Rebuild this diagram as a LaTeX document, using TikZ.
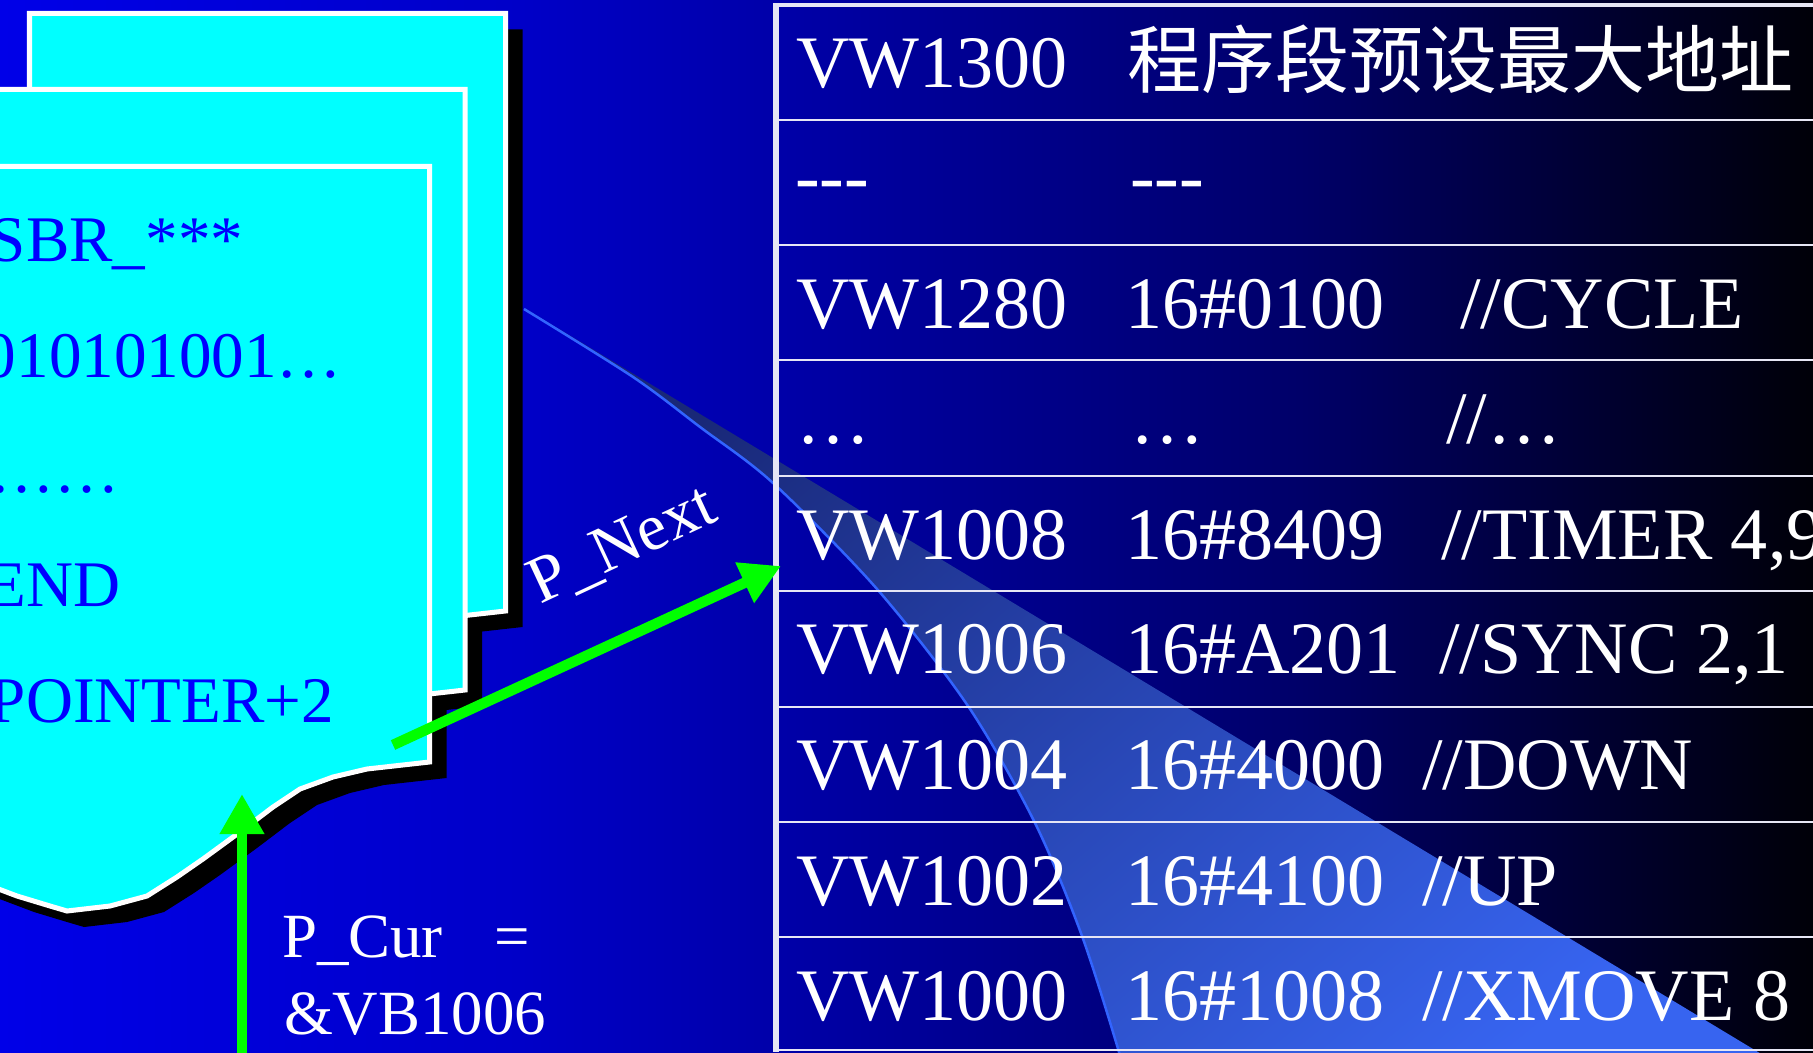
\documentclass[tikz,border=0pt]{standalone}
\usepackage{fontspec}
\setmainfont{Liberation Serif}
\newfontfamily\cjk{Noto Sans CJK SC}
\usetikzlibrary{arrows.meta}
\definecolor{bgA}{RGB}{0,0,232}
\definecolor{bgB}{RGB}{0,0,200}
\definecolor{bgC}{RGB}{0,0,105}
\definecolor{bgD}{RGB}{0,0,8}
\definecolor{pagecyan}{RGB}{0,255,255}
\definecolor{pageblue}{RGB}{0,0,255}
\definecolor{arrowgreen}{RGB}{0,255,0}
\definecolor{beamline}{RGB}{50,100,255}
\definecolor{beamA}{RGB}{25,40,120}
\definecolor{beamB}{RGB}{55,100,240}
\definecolor{lineC}{RGB}{230,230,245}
\pgfdeclarehorizontalshading{bgshade}{100bp}{color(0bp)=(bgA); color(25bp)=(bgA); color(39.34bp)=(bgB); color(60.85bp)=(bgC); color(75bp)=(bgD); color(100bp)=(bgD)}
\begin{document}
\begin{tikzpicture}[x=0.01cm,y=-0.01cm,
  tabtxt/.style={anchor=base west, inner sep=0pt, outer sep=0pt, text=white, font=\fontsize{21.05}{25}\selectfont},
  cjktxt/.style={tabtxt, font=\cjk\fontsize{21.05}{25}\selectfont},
  pagetxt/.style={anchor=base west, inner sep=0pt, outer sep=0pt, text=pageblue, font=\fontsize{18.5}{22}\selectfont},
  lbl/.style={anchor=base west, inner sep=0pt, outer sep=0pt, text=white, font=\fontsize{17.9}{22}\selectfont},
  pageshape/.style={fill=pagecyan, draw=white, line width=0.05cm, line join=miter},
  shadowshape/.style={fill=black},
  rowline/.style={draw=lineC, line width=0.02cm},
  greenarrow/.style={draw=arrowgreen, line width=0.105cm, -{Triangle[length=0.4cm,width=0.42cm]}},
  beamedge/.style={draw=beamline, line width=0.025cm}
]
\useasboundingbox (0,0) rectangle (1813,1052);
\clip (0,0) rectangle (1813,1052);
% background
\shade[shading=bgshade] (0,0) rectangle (1813,1052);

% light beam
\begin{scope}
  \clip (500,293.4) -- (1800,1077.3) -- (500,1077.3) -- cycle;
  \shade[top color=beamA, bottom color=beamB, shading angle=40]
    plot[smooth] coordinates {(524,309) (633,377) (700,427) (773,483) (877,589) (968,706) (1035,823) (1082,936) (1119,1052) (1124,1075)}
    -- (1813,1075) -- (1813,290) -- cycle;
\end{scope}
\draw[beamedge] plot[smooth] coordinates {(524,309) (633,377) (700,427) (773,483) (877,589) (968,706) (1035,823) (1082,936) (1119,1052) (1124,1075)};

% table lines
\draw[draw=lineC, line width=0.06cm] (776,3) -- (776,1052);
\draw[draw=lineC, line width=0.04cm] (776,5) -- (1813,5);
\foreach \yy in {120.5,245.5,360,476,591,707,822,937,1049.5}
  \draw[rowline] (776,\yy) -- (1813,\yy);

% table text
\node[tabtxt] (a1) at (796,88) {VW1300};
\node[cjktxt] (b1) at (1127,88) {程序段预设最大地址};
\node[tabtxt] (a2) at (795,202) {-{}-{}-};
\node[tabtxt] (b2) at (1130,202) {-{}-{}-};
\node[tabtxt] (a3) at (796,328) {VW1280};
\node[tabtxt] (b3) at (1125,328) {16\#0100};
\node[tabtxt] (c3) at (1460,328) {//CYCLE};
\node[tabtxt] (a4) at (796,443) {…};
\node[tabtxt] (b4) at (1130,443) {…};
\node[tabtxt] (c4) at (1446,443) {//…};
\node[tabtxt] (a5) at (796,559) {VW1008};
\node[tabtxt] (b5) at (1125,559) {16\#8409};
\node[tabtxt] (c5) at (1441,559) {//TIMER 4,9};
\node[tabtxt] (a6) at (796,673) {VW1006};
\node[tabtxt] (b6) at (1125,673) {16\#A201};
\node[tabtxt] (c6) at (1439,673) {//SYNC 2,1};
\node[tabtxt] (a7) at (796,789) {VW1004};
\node[tabtxt] (b7) at (1125,789) {16\#4000};
\node[tabtxt] (c7) at (1422,789) {//DOWN};
\node[tabtxt] (a8) at (796,905) {VW1002};
\node[tabtxt] (b8) at (1125,905) {16\#4100};
\node[tabtxt] (c8) at (1422,905) {//UP};
\node[tabtxt] (a9) at (796,1020) {VW1000};
\node[tabtxt] (b9) at (1125,1020) {16\#1008};
\node[tabtxt] (c9) at (1422,1020) {//XMOVE 8};

% page shadows
\foreach \dx/\dy/\t in {76/-151/164.5, 35.5/-72/161.5, 0/0/166.5}{
  \begin{scope}[shift={(\dx+17,\dy+16)}]
    \path[shadowshape] (-46.5,\t) -- (429.5,\t) -- (429.5,762) -- (367,769) -- (333,777) -- (300,789) -- (273,807) -- (240,832) -- (203,859) -- (177,877) -- (147,896) -- (110,906) -- (67,911) -- (50,906) -- (17,896) -- (-46.5,872) -- cycle;
  \end{scope}
}
% pages
\foreach \dx/\dy/\t in {76/-151/164.5, 35.5/-72/161.5, 0/0/166.5}{
  \begin{scope}[shift={(\dx,\dy)}]
    \path[pageshape] (-46.5,\t) -- (429.5,\t) -- (429.5,762) -- (367,769) -- (333,777) -- (300,789) -- (273,807) -- (240,832) -- (203,859) -- (177,877) -- (147,896) -- (110,906) -- (67,911) -- (50,906) -- (17,896) -- (-46.5,872) -- cycle;
  \end{scope}
}

% page text
\node[pagetxt] (p1) at (-10,262) {SBR\_***};
\node[pagetxt] (p2) at (-16,377) {010101001…};
\node[pagetxt] (p3) at (-11,492) {……};
\node[pagetxt] (p4) at (-13,606) {END};
\node[pagetxt] (p5) at (-10,722) {POINTER+2};

% arrows
\coordinate (nextTail) at (393,745);
\coordinate (nextTip) at (781,566);
\draw[greenarrow] (nextTail) -- (nextTip);
\coordinate (curTail) at (242,1070);
\coordinate (curTip) at (242,794);
\draw[greenarrow] (curTail) -- (curTip);

% labels
\node[lbl, rotate=25, font=\fontsize{18.8}{22}\selectfont] (nxt) at (540,604) {P\_Next};
\node[lbl] (cur1) at (282,957) {P\_Cur\hspace{0.52cm}=};
\node[lbl] (cur2) at (284,1034) {\&VB1006};
\end{tikzpicture}
\end{document}
